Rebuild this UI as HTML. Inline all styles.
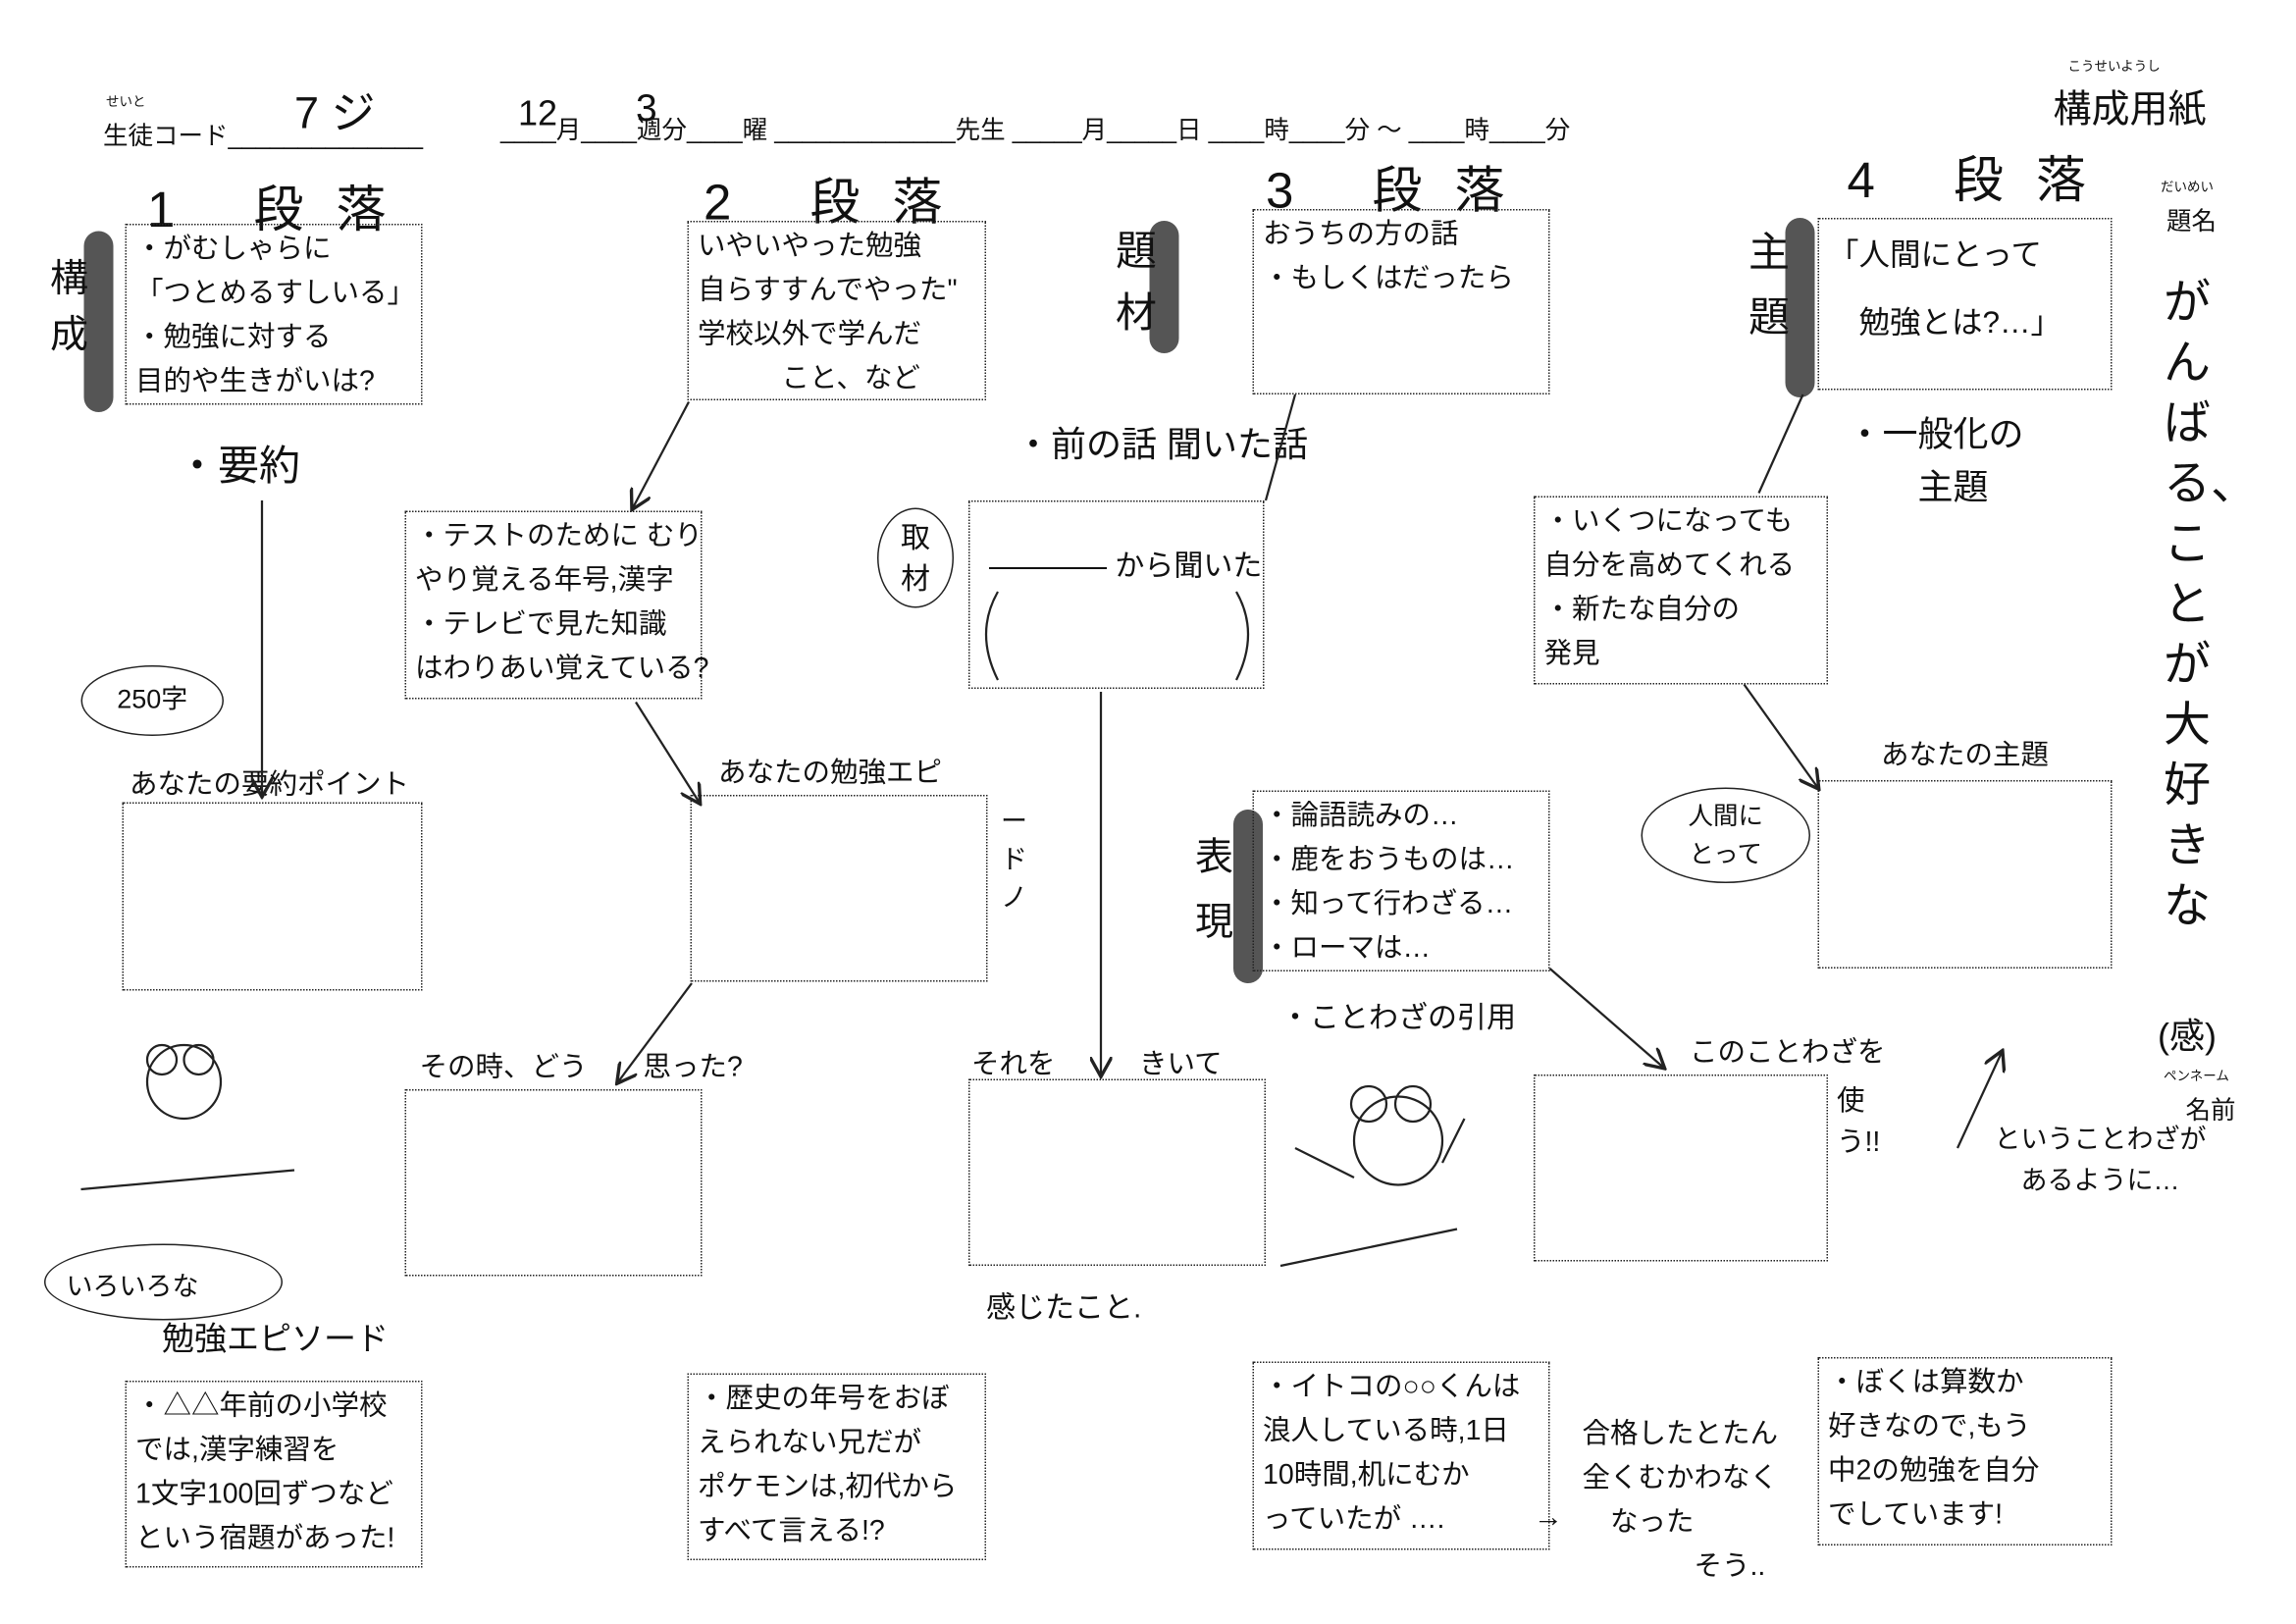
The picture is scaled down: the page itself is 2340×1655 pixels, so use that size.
<!DOCTYPE html>
<html><head><meta charset="utf-8"><style>
html,body{margin:0;padding:0;background:#fff;}
#w{position:relative;width:1560px;height:1103px;transform:scale(1.5);transform-origin:0 0;font-family:"Liberation Sans","Noto Sans CJK JP",sans-serif;color:#111;overflow:hidden}
.b{position:absolute;border:1.5px dotted #222;box-sizing:border-box;font-size:19px;line-height:30px;padding:2px 6px;white-space:nowrap}
.t{position:absolute;white-space:nowrap}
.g{position:absolute;background:#555;border-radius:10px;width:20px}
.h{font-size:34px;letter-spacing:22px}
.s{font-size:9px}
.m{font-size:17px}
</style></head><body><div id="w">
<div class="t s" style="left:72px;top:62px">せいと</div>
<div class="t m" style="left:70px;top:78px">生徒コード______________</div>
<div class="t" style="left:200px;top:52px;font-size:30px">7 ジ</div>
<div class="t m" style="left:340px;top:74px">____月____週分____曜 _____________先生 _____月_____日 ____時____分 ～ ____時____分</div>
<div class="t" style="left:352px;top:64px;font-size:24px">12</div>
<div class="t" style="left:432px;top:58px;font-size:26px">3</div>
<div class="t s" style="left:1405px;top:38px">こうせいようし</div>
<div class="t" style="left:1395px;top:54px;font-size:26px">構成用紙</div>
<div class="t s" style="left:1468px;top:120px">だいめい</div>
<div class="t m" style="left:1472px;top:136px">題名</div>
<div class="t" style="left:1470px;top:185px;font-size:32px;line-height:41px;width:36px;white-space:normal">がんばる、ことが大好きな</div>
<div class="t" style="left:1466px;top:684px;font-size:24px">(感)</div>
<div class="t s" style="left:1470px;top:724px">ペンネーム</div>
<div class="t m" style="left:1485px;top:740px">名前</div>

<div class="t h" style="left:100px;top:115px">1 段落</div>
<div class="t h" style="left:478px;top:110px">2 段落</div>
<div class="t h" style="left:860px;top:102px">3 段落</div>
<div class="t h" style="left:1255px;top:95px">4 段落</div>

<div class="g" style="left:57px;top:157px;height:123px"></div>
<div class="g" style="left:781px;top:150px;height:90px"></div>
<div class="g" style="left:1213px;top:148px;height:122px"></div>
<div class="g" style="left:838px;top:550px;height:118px"></div>
<div class="t" style="left:34px;top:170px;font-size:26px;width:30px;line-height:38px;white-space:normal">構成</div>
<div class="t" style="left:758px;top:150px;font-size:28px;width:30px;line-height:42px;white-space:normal">題材</div>
<div class="t" style="left:1188px;top:150px;font-size:28px;width:30px;line-height:44px;white-space:normal">主題</div>
<div class="t" style="left:812px;top:560px;font-size:26px;width:30px;line-height:44px;white-space:normal">表現</div>

<div class="b" style="left:85px;top:152px;width:202px;height:123px">・がむしゃらに<br>「つとめるすしいる」<br>・勉強に対する<br>目的や生きがいは?</div>
<div class="b" style="left:467px;top:150px;width:203px;height:122px">いやいやった勉強<br>自らすすんでやった"<br>学校以外で学んだ<br>　　　こと、など</div>
<div class="b" style="left:851px;top:142px;width:202px;height:126px">おうちの方の話<br>・もしくはだったら</div>
<div class="b" style="left:1235px;top:148px;width:200px;height:117px;font-size:21px;line-height:46px">「人間にとって<br>　勉強とは?…」</div>

<div class="t" style="left:120px;top:295px;font-size:28px">・要約</div>
<div class="t" style="left:690px;top:282px;font-size:24px">・前の話 聞いた話</div>
<div class="t" style="left:1255px;top:278px;font-size:24px;line-height:36px">・一般化の<br>　　主題</div>

<div class="b" style="left:275px;top:347px;width:202px;height:128px">・テストのために むり<br>やり覚える年号,漢字<br>・テレビで見た知識<br>はわりあい覚えている?</div>
<div class="b" style="left:658px;top:340px;width:201px;height:128px"></div>
<div class="t" style="left:672px;top:368px;font-size:20px">———— から聞いた</div>
<svg style="position:absolute;left:660px;top:398px" width="200" height="70"><g fill="none" stroke="#222" stroke-width="1.5"><path d="M18,4 Q2,32 18,64"/><path d="M180,4 Q196,32 180,64"/></g></svg>
<div class="t" style="left:596px;top:345px;width:52px;height:68px;border:1.5px solid #222;border-radius:50%;font-size:20px;line-height:28px;text-align:center;padding-top:6px;box-sizing:border-box">取<br>材</div>
<div class="b" style="left:1042px;top:337px;width:200px;height:128px">・いくつになっても<br>自分を高めてくれる<br>・新たな自分の<br>発見</div>

<div class="t" style="left:55px;top:452px;width:95px;height:46px;border:1.5px solid #222;border-radius:50%;font-size:18px;line-height:44px;text-align:center">250字</div>
<div class="t" style="left:88px;top:518px;font-size:19px">あなたの要約ポイント</div>
<div class="t" style="left:488px;top:510px;font-size:19px">あなたの勉強エピ</div>
<div class="t" style="left:1278px;top:498px;font-size:19px">あなたの主題</div>
<div class="t" style="left:1115px;top:535px;width:115px;height:65px;border:1.5px solid #222;border-radius:50%;font-size:17px;line-height:26px;text-align:center;padding-top:6px;box-sizing:border-box">人間に<br>とって</div>
<div class="t" style="left:680px;top:545px;font-size:18px;width:20px;line-height:26px;white-space:normal">ードノ</div>

<div class="b" style="left:83px;top:545px;width:204px;height:128px"></div>
<div class="b" style="left:469px;top:540px;width:202px;height:127px"></div>
<div class="b" style="left:851px;top:537px;width:202px;height:123px">・論語読みの…<br>・鹿をおうものは…<br>・知って行わざる…<br>・ローマは…</div>
<div class="b" style="left:1235px;top:530px;width:200px;height:128px"></div>

<div class="t" style="left:870px;top:675px;font-size:20px">・ことわざの引用</div>
<div class="t" style="left:285px;top:710px;font-size:19px">その時、どう　　思った?</div>
<div class="t" style="left:660px;top:708px;font-size:19px">それを　　　きいて</div>
<div class="t" style="left:1148px;top:700px;font-size:19px">このことわざを</div>
<div class="t" style="left:1248px;top:735px;font-size:19px;width:45px;line-height:28px;white-space:normal">使う!!</div>
<div class="t" style="left:1355px;top:760px;font-size:18px;line-height:28px">ということわざが<br>　あるように…</div>

<div class="b" style="left:275px;top:740px;width:202px;height:127px"></div>
<div class="b" style="left:658px;top:733px;width:202px;height:127px"></div>
<div class="b" style="left:1042px;top:730px;width:200px;height:127px"></div>

<div class="t" style="left:670px;top:872px;font-size:20px">感じたこと.</div>
<div class="t" style="left:30px;top:845px;width:160px;height:50px;border:1.5px solid #222;border-radius:50%;"></div>
<div class="t" style="left:45px;top:860px;font-size:18px">いろいろな</div>
<div class="t" style="left:110px;top:892px;font-size:22px">勉強エピソード</div>

<div class="b" style="left:85px;top:938px;width:202px;height:127px">・△△年前の小学校<br>では,漢字練習を<br>1文字100回ずつなど<br>という宿題があった!</div>
<div class="b" style="left:467px;top:933px;width:203px;height:127px">・歴史の年号をおぼ<br>えられない兄だが<br>ポケモンは,初代から<br>すべて言える!?</div>
<div class="b" style="left:851px;top:925px;width:202px;height:128px">・イトコの○○くんは<br>浪人している時,1日<br>10時間,机にむか<br>っていたが ….</div>
<div class="t" style="left:1042px;top:1020px;font-size:20px">→</div>
<div class="t" style="left:1075px;top:960px;font-size:19px;line-height:30px">合格したとたん<br>全くむかわなく<br>　なった<br>　　　　そう..</div>
<div class="b" style="left:1235px;top:922px;width:200px;height:128px">・ぼくは算数か<br>好きなので,もう<br>中2の勉強を自分<br>でしています!</div>

<svg style="position:absolute;left:0;top:0" width="1560" height="1103">
<defs><marker id="a" markerWidth="10" markerHeight="10" refX="8" refY="5" orient="auto"><path d="M0,0 L9,5 L0,10" fill="none" stroke="#222" stroke-width="1.5"/></marker></defs>
<g stroke="#222" stroke-width="1.5" fill="none">
<line x1="468" y1="273" x2="430" y2="345" marker-end="url(#a)"/>
<line x1="178" y1="340" x2="178" y2="540" marker-end="url(#a)"/>
<line x1="432" y1="477" x2="475" y2="545" marker-end="url(#a)"/>
<line x1="470" y1="668" x2="420" y2="735" marker-end="url(#a)"/>
<line x1="748" y1="470" x2="748" y2="730" marker-end="url(#a)"/>
<line x1="880" y1="268" x2="860" y2="340"/>
<line x1="1225" y1="268" x2="1195" y2="335"/>
<line x1="1185" y1="465" x2="1235" y2="535" marker-end="url(#a)"/>
<line x1="1053" y1="658" x2="1130" y2="725" marker-end="url(#a)"/>
<line x1="1330" y1="780" x2="1360" y2="715" marker-end="url(#a)"/>
<path d="M55,808 L200,795"/><circle cx="125" cy="735" r="25"/><circle cx="110" cy="720" r="10"/><circle cx="135" cy="720" r="10"/>
<circle cx="950" cy="775" r="30"/><circle cx="930" cy="750" r="12"/><circle cx="960" cy="750" r="12"/>
<path d="M920,800 L880,780 M980,790 L995,760 M870,860 L990,835"/>
</g></svg>
</div></body></html>
